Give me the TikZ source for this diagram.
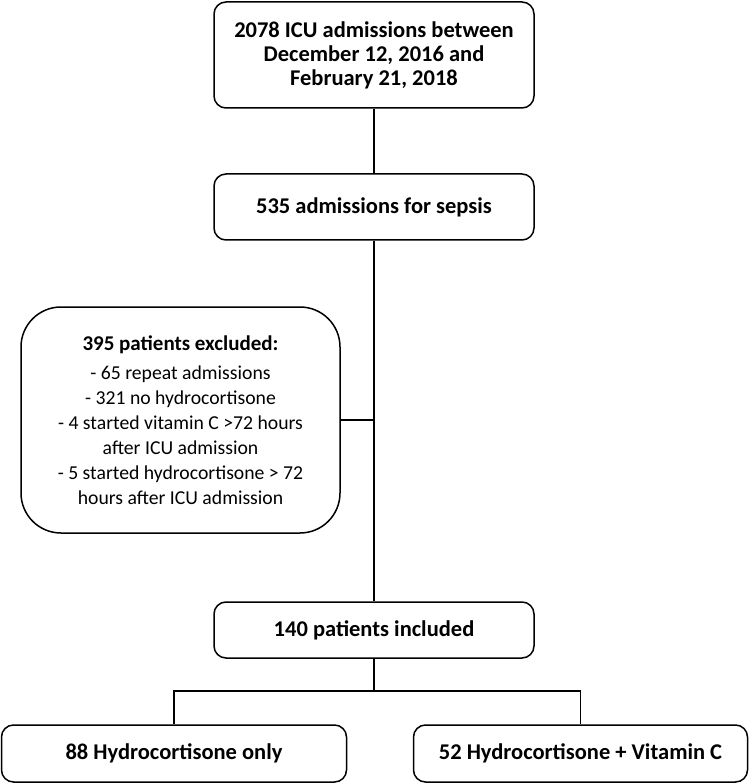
\documentclass[tikz,border=0pt]{standalone}
\usepackage{fontspec}
\setmainfont{Carlito}
\begin{document}
\begin{tikzpicture}[x=1pt, y=-1pt, line width=1.5pt,
  box/.style={draw, rectangle, rounded corners=12pt, align=center, inner sep=0pt, font=\bfseries\fontsize{22.5}{24}\selectfont}]
\useasboundingbox (0,0) rectangle (749,783);
\node[box, minimum width=320pt, minimum height=106pt] (icu) at (374,55) {2078 ICU admissions between\\December 12, 2016 and\\February 21, 2018};
\node[box, minimum width=320pt, minimum height=66pt] (sepsis) at (374,207) {535 admissions for sepsis};
\node[box, rounded corners=40pt, minimum width=319pt, minimum height=226pt, font=\fontsize{19.7}{25}\selectfont] (excl) at (180.5,420) {\textbf{\fontsize{21}{25}\selectfont 395 patients excluded:}\\[4pt]- 65 repeat admissions\\- 321 no hydrocortisone\\- 4 started vitamin C >72 hours\\after ICU admission\\- 5 started hydrocortisone > 72\\hours after ICU admission};
\node[box, minimum width=320pt, minimum height=56pt] (incl) at (374,630) {140 patients included};
\node[box, minimum width=345pt, minimum height=57pt] (hc) at (174,753.5) {88 Hydrocortisone only};
\node[box, minimum width=334pt, minimum height=57pt] (hcvc) at (580.5,753.5) {52 Hydrocortisone + Vitamin C};
\coordinate (fork) at (374,691);
\draw (icu) -- (sepsis);
\draw (sepsis) -- (incl);
\draw (excl.east) -- (excl.east -| incl.north);
\draw (incl) -- (fork);
\draw (hc.north) |- (fork) -| (hcvc.north);
\end{tikzpicture}
\end{document}
